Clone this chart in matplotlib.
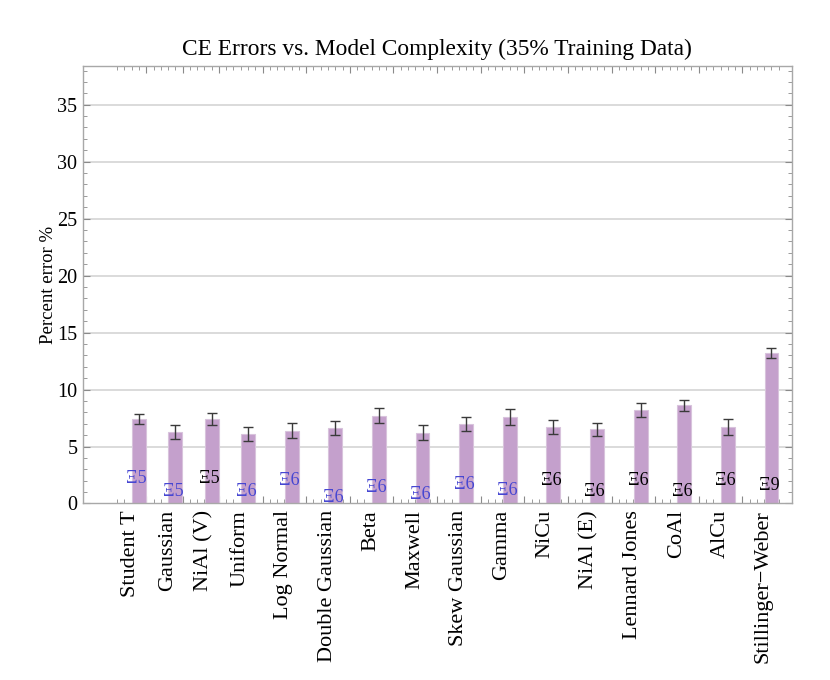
import numpy as np
import matplotlib
matplotlib.use("Agg")
import matplotlib.pyplot as plt
import matplotlib.transforms as mtransforms

plt.rcParams['font.family'] = ['Liberation Serif', 'DejaVu Serif']

# Data
models = ["Student T", "Gaussian", "NiAl (V)", "Uniform", "Log Normal",
          "Double Gaussian", "Beta", "Maxwell", "Skew Gaussian", "Gamma",
          "NiCu", "NiAl (E)", "Lennard Jones", "CoAl", "AlCu", "Stillinger\u2212Weber"]
errors = [7.4, 6.3, 7.4, 6.1, 6.4, 6.6, 7.7, 6.2, 7.0, 7.6,
          6.7, 6.5, 8.2, 8.6, 6.7, 13.2]
err_bars = [0.45, 0.6, 0.55, 0.6, 0.65, 0.63, 0.66, 0.65, 0.6, 0.7,
            0.6, 0.6, 0.6, 0.5, 0.72, 0.42]
tags = ["\u039e5", "\u039e5", "\u039e5", "\u039e6", "\u039e6", "\u039e6", "\u039e6", "\u039e6",
        "\u039e6", "\u039e6", "\u039e6", "\u039e6", "\u039e6", "\u039e6", "\u039e6", "\u039e9"]
tag_y = [2.15, 1.05, 2.15, 1.05, 2.0, 0.55, 1.42, 0.8,
         1.7, 1.1, 2.06, 1.03, 2.06, 1.03, 2.06, 1.54]
tag_blue = [True, True, False, True, True, True, True, True,
            True, True, False, False, False, False, False, False]

# layout: first bars are a bit closer together
spacing = [5] * 3 + [6] * 12
x = 7.7 + np.concatenate([[0], np.cumsum(spacing)])

fig = plt.figure(figsize=(8.3, 6.8), dpi=100)
ax = fig.add_axes([0.1, 0.2596, 0.854, 0.6434])

ax.set_xlim(0, 97.5)
ax.set_ylim(0, 38.4)

# grid
for g in range(5, 40, 5):
    ax.axhline(g, color='#d4d4d4', lw=1.2, zorder=0)

ax.bar(x, errors, width=1.9, color='#c4a0cc', edgecolor='#d8c3dc', linewidth=0.8, zorder=2)
ax.errorbar(x, errors, yerr=err_bars, fmt='none', ecolor='#3a3a3a', elinewidth=1.0,
            capsize=3.5, capthick=1.0, zorder=3)

for xi, t, ty, blue in zip(x, tags, tag_y, tag_blue):
    ax.text(xi - 0.3, ty, t, ha='center', va='center', fontsize=13,
            color='#4646d2' if blue else 'black', zorder=4)

# category labels, rotated, slightly to the left of each bar
trans = mtransforms.blended_transform_factory(ax.transData, ax.transAxes)
for xi, name in zip(x, models):
    ax.text(xi - 1.1, -0.015, name, rotation=90, ha='center', va='top',
            fontsize=16, transform=trans)

# ticks
major_x = list(np.arange(8.7, 19, 5)) + list(np.arange(24.7, 91, 6))
ax.set_xticks(major_x)
ax.set_xticks(np.arange(4.7, 96, 1), minor=True)
ax.set_xticklabels([])
ax.set_yticks(np.arange(0, 36, 5))
ax.set_yticks(np.arange(0, 39, 1), minor=True)
ax.tick_params(axis='both', which='both', direction='in', top=True, right=True,
               color='#8a8a8a')
ax.tick_params(axis='both', which='major', length=5, width=0.8)
ax.tick_params(axis='both', which='minor', length=3, width=0.6)
ax.tick_params(axis='y', labelsize=14.5, pad=4)

for s in ax.spines.values():
    s.set_color('#a8a8a8')
    s.set_linewidth(1.0)

ax.set_ylabel("Percent error %", fontsize=13.5, labelpad=0)
ax.set_title("CE Errors vs. Model Complexity (35% Training Data)", fontsize=16.8, pad=8)

fig.savefig("out.png", dpi=100)
